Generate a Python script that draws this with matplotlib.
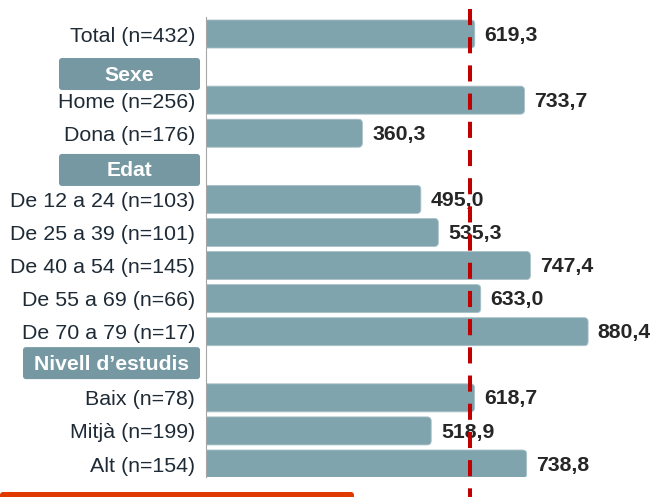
import matplotlib.pyplot as plt
from matplotlib.patches import FancyBboxPatch
from matplotlib import transforms

plt.rcParams['font.family'] = ['Liberation Sans', 'DejaVu Sans']

# rows of the chart (slot index from the top)
categories = ["Total (n=432)", "Home (n=256)", "Dona (n=176)",
              "De 12 a 24 (n=103)", "De 25 a 39 (n=101)", "De 40 a 54 (n=145)",
              "De 55 a 69 (n=66)", "De 70 a 79 (n=17)",
              "Baix (n=78)", "Mitjà (n=199)", "Alt (n=154)"]
values = [619.3, 733.7, 360.3, 495.0, 535.3, 747.4, 633.0, 880.4, 618.7, 518.9, 738.8]
slots = [0, 2, 3, 5, 6, 7, 8, 9, 11, 12, 13]

groups = ["Sexe", "Edat", "Nivell d’estudis"]
group_slots = [1.21, 4.11, 9.95]
group_left_px = [59, 59, 23]

reference_value = 609

BAR = "#7FA4AE"
HEAD = "#7598A2"
RED = "#C00000"
W, H = 650, 497

fig = plt.figure(figsize=(W / 100, H / 100), dpi=100)
ax_left, ax_right, ax_top, ax_bottom = 206, 640, 17, 477
ax = fig.add_axes([ax_left / W, 1 - ax_bottom / H, (ax_right - ax_left) / W, (ax_bottom - ax_top) / H])

xmax = 1000
ax.set_xlim(0, xmax)
ax.set_ylim(13.393, -0.514)

px_x = (ax_right - ax_left) / xmax
px_y = (ax_bottom - ax_top) / (13.393 + 0.514)

# bars with rounded right end (left end hidden behind the axis)
bar_h = 28 / px_y
for y, v in zip(slots, values):
    p = FancyBboxPatch((-20, y - bar_h / 2), v + 20, bar_h,
                       boxstyle="round,pad=0,rounding_size=%f" % (4 / px_x),
                       mutation_aspect=px_x / px_y,
                       facecolor=BAR, edgecolor="#A9C1C7", linewidth=0.6)
    ax.add_patch(p)
    ax.annotate(f"{v:.1f}".replace(".", ","), xy=(v, y), xytext=(7.0, -0.8),
                textcoords="offset points", ha="left", va="center",
                fontsize=15.3, fontweight="bold", color="#262626")

ax.set_yticks(slots)
ax.set_yticklabels(categories, fontsize=15.4, color="#1E2B36")
ax.tick_params(axis="y", length=0, pad=7.9)
ax.set_xticks([])
for s in ["top", "right", "bottom"]:
    ax.spines[s].set_visible(False)
ax.spines["left"].set_color("#A6A6A6")
ax.spines["left"].set_linewidth(0.8)

# group headers left of the axis
ax_w = ax_right - ax_left
trans = transforms.blended_transform_factory(ax.transAxes, ax.transData)
box_h = 32 / px_y
for g, ys, lpx in zip(groups, group_slots, group_left_px):
    x0 = (lpx - ax_left) / ax_w
    x1 = (200 - ax_left) / ax_w
    box = FancyBboxPatch((x0, ys - box_h / 2), x1 - x0, box_h,
                         boxstyle="round,pad=0,rounding_size=%f" % (3 / ax_w),
                         mutation_aspect=ax_w / px_y,
                         transform=trans, facecolor=HEAD, edgecolor="none",
                         clip_on=False)
    ax.add_patch(box)
    ax.text((x0 + x1) / 2, ys + 0.03, g, transform=trans, ha="center", va="center",
            fontsize=15.2, fontweight="bold", color="white")

# reference line
ax.plot([reference_value, reference_value], [-0.756, 14.5], color=RED,
        linewidth=2.9, dashes=(4, 3), clip_on=False, zorder=5)

# orange strip at the bottom
strip = FancyBboxPatch((0, -0.02), 354 / W, 0.02 + 5 / H,
                       boxstyle="round,pad=0,rounding_size=%f" % (3 / W),
                       mutation_aspect=W / H, transform=fig.transFigure,
                       facecolor="#E03A00", edgecolor="none")
fig.patches.append(strip)

fig.savefig("out.png", dpi=100)
